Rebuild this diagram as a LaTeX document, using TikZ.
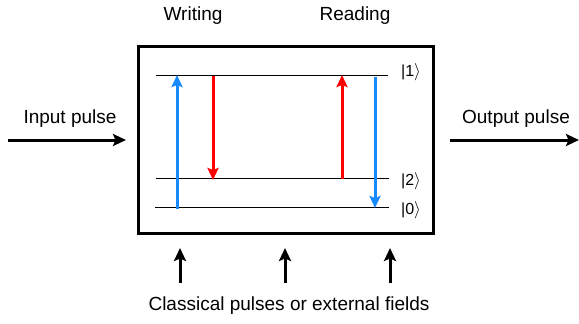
\documentclass[tikz,border=0pt]{standalone}
\usepackage{fontspec}
\setmainfont{Liberation Sans}
\usetikzlibrary{arrows.meta}
\definecolor{qblue}{RGB}{24,138,255}
\definecolor{qred}{RGB}{255,0,0}
\begin{document}
\begin{tikzpicture}[x=1pt,y=-1pt,
  lbl/.style={inner sep=0pt,font=\fontsize{19}{22}\selectfont},
  ket/.style={inner sep=0pt,font=\fontsize{16}{18}\selectfont},
  level/.style={line width=0.9pt,black},
  trans/.style={line width=3pt,-{Stealth[length=12pt,width=11pt,inset=2pt]}},
  bigarrow/.style={line width=3pt,-{Stealth[length=13pt,width=12pt,inset=2.5pt]}},
  frame/.style={draw,line width=3pt,inner sep=0pt}]
\useasboundingbox (0,0) rectangle (579,324);
% box
\node[frame,minimum width=295pt,minimum height=187pt] (box) at (286,140) {};
% levels
\coordinate (l1a) at (156,75);  \coordinate (l1b) at (388,75);
\coordinate (l2a) at (156,178.5); \coordinate (l2b) at (389,178.5);
\coordinate (l0a) at (155,207.5); \coordinate (l0b) at (389,207.5);
\draw[level] (l1a) -- (l1b);
\draw[level] (l2a) -- (l2b);
\draw[level] (l0a) -- (l0b);
% kets
\node[ket] (k1) at (411,72) {|1$\rangle$};
\node[ket] (k2) at (411,181) {|2$\rangle$};
\node[ket] (k0) at (411,210) {|0$\rangle$};
% transitions
\coordinate (bu0) at (177,209); \coordinate (bu1) at (177,75);
\coordinate (rd0) at (213,76);  \coordinate (rd1) at (213,180);
\coordinate (ru0) at (342,179); \coordinate (ru1) at (342,75);
\coordinate (bd0) at (375,77);  \coordinate (bd1) at (375,208);
\draw[trans,qblue] (bu0) -- (bu1);
\draw[trans,qred] (rd0) -- (rd1);
\draw[trans,qred] (ru0) -- (ru1);
\draw[trans,qblue] (bd0) -- (bd1);
% titles
\node[lbl] (w) at (193,16) {Writing};
\node[lbl] (r) at (355,16) {Reading};
% input/output
\node[lbl] (in) at (70,119) {Input pulse};
\node[lbl] (out) at (516,119) {Output pulse};
\coordinate (ina) at (8,140); \coordinate (inb) at (126,140);
\coordinate (outa) at (450,140); \coordinate (outb) at (579,140);
\draw[bigarrow] (ina) -- (inb);
\draw[bigarrow] (outa) -- (outb);
% bottom arrows
\foreach \i/\x in {1/180,2/285,3/390}{
  \coordinate (ba\i) at (\x,283); \coordinate (bb\i) at (\x,248);
  \draw[bigarrow] (ba\i) -- (bb\i);
}
\node[lbl] (cl) at (289,306) {Classical pulses or external fields};
\end{tikzpicture}
\end{document}
